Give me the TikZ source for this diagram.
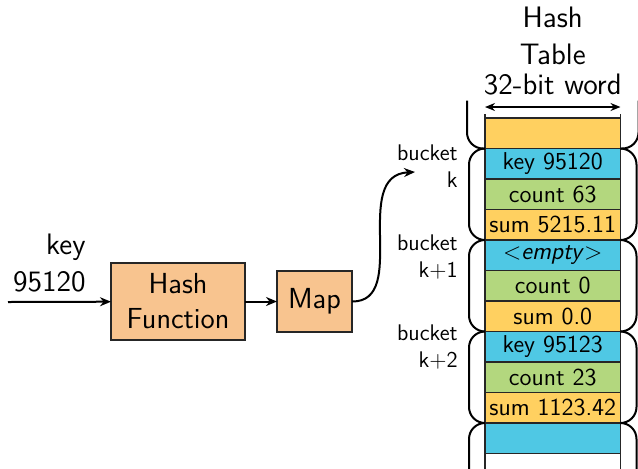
\documentclass[tikz,border=0pt]{standalone}
\usetikzlibrary{arrows.meta,positioning}

\definecolor{cellorange}{HTML}{FFD060}
\definecolor{cellblue}{HTML}{4FC8E4}
\definecolor{cellgreen}{HTML}{B3D77E}
\definecolor{boxpeach}{HTML}{F8C48F}

\tikzset{
  cell/.style={draw=black!85, line width=0.8pt, outer sep=0pt, inner sep=0pt,
    minimum width=67.75pt, minimum height=15.25pt,
    font=\fontsize{12.2}{14}\selectfont\sffamily},
  blk/.style={draw=black!85, line width=1pt, fill=boxpeach, outer sep=0pt,
    inner sep=0pt, align=center, font=\fontsize{14.5}{17.5}\selectfont\sffamily},
  biglbl/.style={inner sep=0pt, align=center, font=\fontsize{14.8}{18.5}\selectfont\sffamily},
  bklbl/.style={inner sep=0pt, align=right, anchor=east,
    font=\fontsize{11.3}{13.5}\selectfont\sffamily},
  side/.style={draw=black!85, line width=0.8pt},
  brace/.style={line width=1pt, rounded corners=8pt},
  flow/.style={line width=1pt, -{Stealth[length=5.5pt,width=4.5pt]}},
  span/.style={line width=0.8pt, {Stealth[length=5pt,width=4pt]}-{Stealth[length=5pt,width=4pt]}},
}

\begin{document}
\begin{tikzpicture}[x=0.5pt, y=-0.5pt]
\useasboundingbox (0,0) rectangle (638,468);

% input key, hash function and map
\node[biglbl, align=right, anchor=east] (inkey) at (86,263) {key\\95120};
\coordinate (src) at (8,302);
\node[blk, minimum width=67pt, minimum height=38.5pt] (hash) at (178,301.5) {Hash\\Function};
\node[blk, minimum width=37.5pt, minimum height=30.5pt, right=16pt of hash] (map) {Map};
\draw[flow] (src) -- (hash);
\draw[flow] (hash) -- (map);

% hash table cells
\node[cell, fill=cellorange] (s0) at (552.75,133.25) {};
\node[cell, fill=cellblue, below=0pt of s0] (k1) {key 95120};
\node[cell, fill=cellgreen, below=0pt of k1] (c1) {count 63};
\node[cell, fill=cellorange, below=0pt of c1] (s1) {sum 5215.11};
\node[cell, fill=cellblue, below=0pt of s1] (k2) {$<$\textit{empty}$>$};
\node[cell, fill=cellgreen, below=0pt of k2] (c2) {count 0};
\node[cell, fill=cellorange, below=0pt of c2] (s2) {sum 0.0};
\node[cell, fill=cellblue, below=0pt of s2] (k3) {key 95123};
\node[cell, fill=cellgreen, below=0pt of k3] (c3) {count 23};
\node[cell, fill=cellorange, below=0pt of c3] (s3) {sum 1123.42};
\node[cell, fill=cellblue, below=0pt of s3] (k4) {};

% table sides run past the cells
\draw[side] ([yshift=2pt]s0.north west) -- ([yshift=-8pt]k4.south west);
\draw[side] ([yshift=2pt]s0.north east) -- ([yshift=-8pt]k4.south east);

% title and word width
\node[biglbl] (ttl) at (552.75,36) {Hash\\Table};
\node[biglbl] (wd) at (552.75,85) {32-bit word};
\draw[span] ([yshift=5.5pt]s0.north west) -- ([yshift=5.5pt]s0.north east);

% bucket brackets
\draw[brace] (s0.south west) -- ++(-18,0) -- ++(0,-48);
\draw[brace] (s0.south east) -- ++(18,0) -- ++(0,-48);
\draw[brace] (k1.north west) -- ++(-16,0) |- (s1.south west);
\draw[brace] (k1.north east) -- ++(16,0) |- (s1.south east);
\draw[brace] (k2.north west) -- ++(-16,0) |- (s2.south west);
\draw[brace] (k2.north east) -- ++(16,0) |- (s2.south east);
\draw[brace] (k3.north west) -- ++(-16,0) |- (s3.south west);
\draw[brace] (k3.north east) -- ++(16,0) |- (s3.south east);
\draw[brace] (k4.north west) -- ++(-16,0) -- ++(0,60);
\draw[brace] (k4.north east) -- ++(16,0) -- ++(0,60);

% bucket labels
\node[bklbl] (b1) at (458,166) {bucket\\k};
\node[bklbl] (b2) at (458,257) {bucket\\k+1};
\node[bklbl] (b3) at (458,347) {bucket\\k+2};

% map points into the table
\coordinate (tip) at (415,172);
\draw[flow] (map.east) .. controls (410,302) and (350,175) .. (tip);
\end{tikzpicture}
\end{document}
